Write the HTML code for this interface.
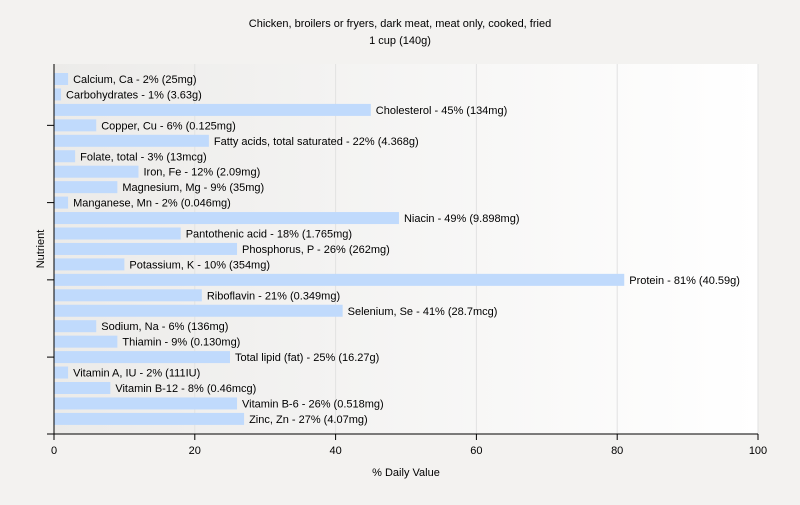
<!DOCTYPE html>
<html><head><meta charset="utf-8"><style>
body{margin:0;background:#f3f2f0;font-family:"Liberation Sans",sans-serif}
svg text{font-family:"Liberation Sans",sans-serif;font-size:11px;fill:#000}
</style></head><body>
<svg width="800" height="500">
<defs><linearGradient id="bg" x1="0" x2="1"><stop offset="0" stop-color="#ecebe9"/><stop offset="1" stop-color="#ffffff"/></linearGradient></defs>
<text x="400" y="27" text-anchor="middle" font-size="12">Chicken, broilers or fryers, dark meat, meat only, cooked, fried</text>
<text x="400" y="44" text-anchor="middle" font-size="12">1 cup (140g)</text>
<rect x="54" y="64" width="704" height="370" fill="url(#bg)"/>
<g id="grid"></g><g id="bars"></g><g id="axes"></g>
<text x="406" y="476" text-anchor="middle">% Daily Value</text>
<text transform="translate(44,249) rotate(-90)" text-anchor="middle">Nutrient</text>
</svg>
<script>
const categories=["Calcium, Ca","Carbohydrates","Cholesterol","Copper, Cu","Fatty acids, total saturated","Folate, total","Iron, Fe","Magnesium, Mg","Manganese, Mn","Niacin","Pantothenic acid","Phosphorus, P","Potassium, K","Protein","Riboflavin","Selenium, Se","Sodium, Na","Thiamin","Total lipid (fat)","Vitamin A, IU","Vitamin B-12","Vitamin B-6","Zinc, Zn"];
const values=[2,1,45,6,22,3,12,9,2,49,18,26,10,81,21,41,6,9,25,2,8,26,27];
const amounts=["25mg","3.63g","134mg","0.125mg","4.368g","13mcg","2.09mg","35mg","0.046mg","9.898mg","1.765mg","262mg","354mg","40.59g","0.349mg","28.7mcg","136mg","0.130mg","16.27g","111IU","0.46mcg","0.518mg","4.07mg"];
const xTicks=[0,20,40,60,80,100];
const NS="http://www.w3.org/2000/svg";
const x=v=>54+v*7.04;
const y=i=>79+i*15.45;
function mk(t,a,p){const e=document.createElementNS(NS,t);for(const k in a)e.setAttribute(k,a[k]);document.getElementById(p).appendChild(e);return e;}
xTicks.forEach(t=>{
 if(t>0){const g=mk("line",{x1:x(t),x2:x(t),y1:64,y2:434,stroke:"#e2e2e2"},"grid");
 
 }
 const tk=mk("line",{x1:x(t),x2:x(t),y1:434,y2:440,stroke:"#000"},"axes");
 
 
 const l=mk("text",{x:x(t),y:454,"text-anchor":"middle","font-size":"12"},"axes");l.textContent=t;
 
 
});
categories.forEach((c,i)=>{
 const r=mk("rect",{x:54,y:y(i)-6,width:x(values[i])-54,height:12,fill:"#c0dafc"},"bars");
 
 
 const t=mk("text",{x:x(values[i])+5,y:y(i)+4},"bars");t.textContent=c+" - "+values[i]+"% ("+amounts[i]+")";
 
 
 if(i%5===3){const k=mk("line",{x1:47,x2:54,y1:y(i),y2:y(i),stroke:"#000"},"axes");
 
 }
});
const ya=mk("line",{x1:54,x2:54,y1:64,y2:434,stroke:"#000"},"axes");


const xa=mk("line",{x1:47,x2:758,y1:434,y2:434,stroke:"#000"},"axes");


</script>
</body></html>
